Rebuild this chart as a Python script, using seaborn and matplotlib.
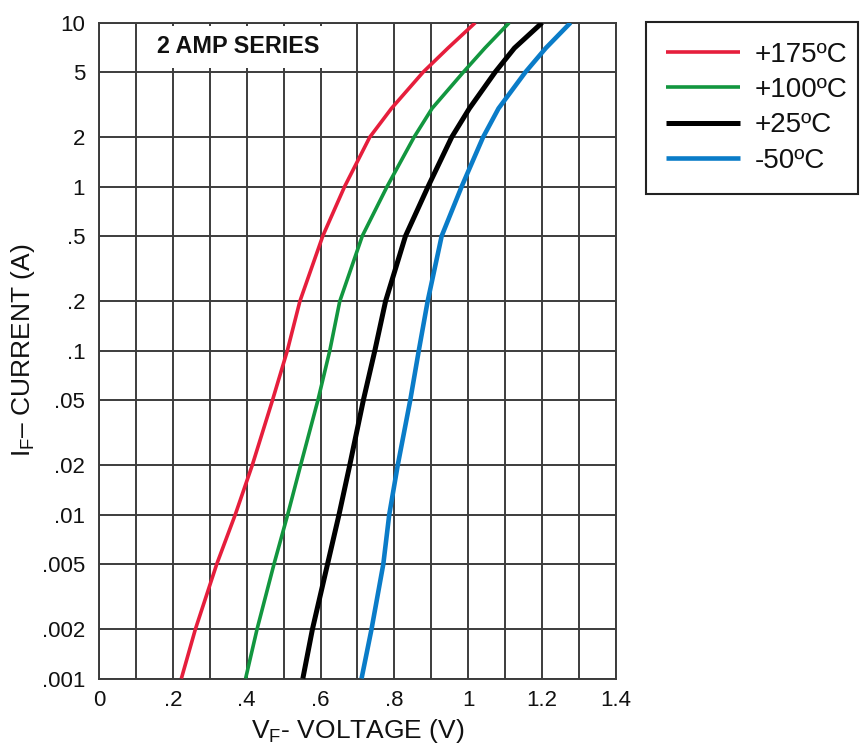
import seaborn as sns
import matplotlib.pyplot as plt
import pandas as pd

current = [0.001, 0.002, 0.005, 0.01, 0.02, 0.05, 0.1, 0.2, 0.5, 1, 2, 3, 5, 7, 10]

# forward voltage (V) for each temperature
v_175 = [0.223, 0.261, 0.319, 0.369, 0.415, 0.470, 0.510, 0.544, 0.606, 0.665, 0.733, 0.792, 0.878, 0.945, 1.019]
v_100 = [0.397, 0.428, 0.474, 0.511, 0.546, 0.593, 0.625, 0.652, 0.713, 0.780, 0.853, 0.902, 0.987, 1.045, 1.111]
v_25 = [0.552, 0.578, 0.619, 0.650, 0.679, 0.716, 0.747, 0.776, 0.830, 0.891, 0.955, 1.003, 1.073, 1.125, 1.200]
v_m50 = [0.711, 0.738, 0.770, 0.786, 0.809, 0.843, 0.866, 0.890, 0.928, 0.982, 1.040, 1.082, 1.155, 1.210, 1.277]

labels = ['+175ºC', '+100ºC', '+25ºC', '-50ºC']
colors = ['#e61e3c', '#12963f', '#000000', '#0a7cc8']
widths = [2.6, 2.6, 3.6, 3.3]

x_ticks = [0, 0.2, 0.4, 0.6, 0.8, 1.0, 1.2, 1.4]
x_labels = ['0', '.2', '.4', '.6', '.8', '1', '1.2', '1.4']
y_ticks = [10, 5, 2, 1, 0.5, 0.2, 0.1, 0.05, 0.02, 0.01, 0.005, 0.002, 0.001]
y_labels = ['10', '5', '2', '1', '.5', '.2', '.1', '.05', '.02', '.01', '.005', '.002', '.001']

if __name__ == '__main__':
    sns.set_style('white')
    plt.rcParams['font.family'] = ['Liberation Sans', 'DejaVu Sans']
    plt.rcParams['mathtext.fontset'] = 'custom'
    plt.rcParams['mathtext.rm'] = 'Liberation Sans'

    fig = plt.figure(figsize=(8.61, 7.44), dpi=100)
    ax = fig.add_axes([0.115, 0.088, 0.6004, 0.8815])

    for volts, lab, col, lw in zip([v_175, v_100, v_25, v_m50], labels, colors, widths):
        df = pd.DataFrame({'V': volts, 'I': current})
        sns.lineplot(data=df, x='V', y='I', color=col, lw=lw, label=lab, ax=ax,
                     sort=False, solid_capstyle='butt', solid_joinstyle='round', zorder=3)

    ax.set_yscale('log')
    ax.set_xlim(0, 1.4)
    ax.set_ylim(0.001, 10)

    ax.set_xticks(x_ticks, x_labels)
    ax.set_xticks([i / 10 for i in range(15)], minor=True)
    ax.set_yticks(y_ticks, y_labels)
    ax.yaxis.set_minor_locator(plt.NullLocator())
    ax.tick_params(which='both', length=0)
    ax.tick_params(axis='x', pad=8, labelsize=16, colors='#111111')
    ax.tick_params(axis='y', pad=10, labelsize=16, colors='#111111')

    ax.grid(True, which='both', color='#3c3c3c', lw=1.4)
    ax.set_axisbelow(True)
    for sp in ax.spines.values():
        sp.set_color('#3c3c3c')
        sp.set_linewidth(1.4)

    ax.set_xlabel(r'$\mathregular{V_F}$- VOLTAGE (V)', fontsize=19, color='#111111')
    ax.set_ylabel(r'$\mathregular{I_F}$– CURRENT (A)', fontsize=19, color='#111111')
    ax.xaxis.set_label_coords(0.5, -0.058)
    ax.yaxis.set_label_coords(-0.12, 0.5)

    # title box sits on top of the grid, hiding the lines behind it
    ax.text(0.269, 0.963, '2 AMP SERIES', transform=ax.transAxes, ha='center', va='center',
            fontsize=16.8, fontweight='bold', color='#111111',
            bbox=dict(facecolor='white', edgecolor='none', pad=6.5), zorder=4)

    leg = ax.legend(loc='upper left', bbox_to_anchor=(0.7503, 0.2, 0.2462, 0.7704),
                    bbox_transform=fig.transFigure, mode='expand',
                    borderaxespad=0, fontsize=20, handlelength=2.65, handletextpad=0.55,
                    labelspacing=0.33, borderpad=0.72, fancybox=False, framealpha=1)
    leg.get_frame().set_edgecolor('#222222')
    leg.get_frame().set_linewidth(1.5)
    for t in leg.get_texts():
        t.set_color('#111111')

    fig.savefig('out.png', dpi=100)
